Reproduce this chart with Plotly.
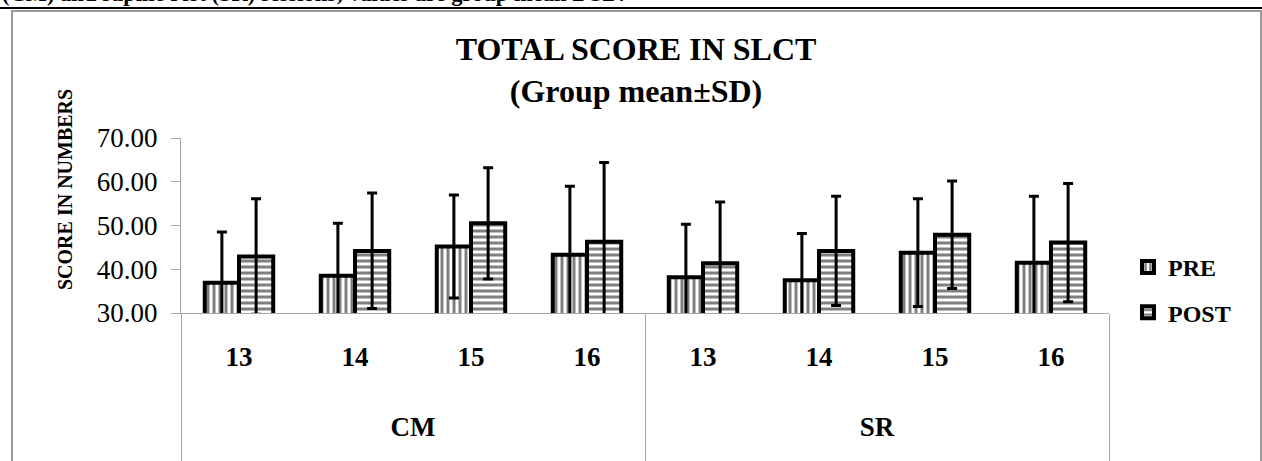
import plotly.graph_objects as go

sessions = ["CM", "CM", "CM", "CM", "SR", "SR", "SR", "SR"]
days = ["13", "14", "15", "16", "13", "14", "15", "16"]
pre_mean = [36.9, 38.5, 45.2, 43.3, 38.2, 37.5, 43.8, 41.5]
pre_sd = [11.6, 12.0, 11.8, 15.7, 12.1, 10.7, 12.3, 15.2]
post_mean = [42.9, 44.2, 50.5, 46.3, 41.4, 44.2, 47.9, 46.1]
post_sd = [13.2, 13.2, 12.7, 18.1, 14.0, 12.5, 12.3, 13.5]

SERIF = "Liberation Serif"
GRAY = "#a6a6a6"

# label text (an invisible spacer line gives Excel-like spacing between the two category levels)
day_labels = [d + "<br><span style='font-size:80px'> </span>" for d in days]
session_labels = [s + "<br> <br> " for s in sessions]

fig = go.Figure()
fig.add_trace(go.Bar(
    name="PRE", x=[session_labels, day_labels], y=pre_mean,
    error_y=dict(type="data", array=pre_sd, symmetric=True, color="black", thickness=3, width=5),
    marker=dict(color="white", line=dict(color="black", width=4),
                pattern=dict(shape="|", fgcolor="black", bgcolor="white", size=6, solidity=0.5)),
    legendgroup="a",
))
fig.add_trace(go.Bar(
    name="POST", x=[session_labels, day_labels], y=post_mean,
    error_y=dict(type="data", array=post_sd, symmetric=True, color="black", thickness=3, width=5),
    marker=dict(color="white", line=dict(color="black", width=4),
                pattern=dict(shape="-", fgcolor="black", bgcolor="white", size=6, solidity=0.5)),
    legendgroup="b",
))

L, R, T, B = 181, 1109, 138, 313
W, H = 1262, 461
pw, ph = R - L, B - T

def px(x):
    return (x - L) / pw

def py(y):
    return (B - y) / ph

fig.update_layout(
    width=W, height=H,
    margin=dict(l=L, r=W - R, t=T, b=H - B, autoexpand=False),
    paper_bgcolor="white", plot_bgcolor="white",
    barmode="group", bargap=0.41, bargroupgap=0,
    font=dict(family=SERIF, color="black"),
    showlegend=True,
    legend=dict(x=px(1128), y=py(245), xanchor="left", yanchor="top",
                font=dict(family=SERIF, size=24, color="black", weight="bold"),
                tracegroupgap=11, itemwidth=30, bgcolor="rgba(0,0,0,0)"),
    title=dict(text="<b>TOTAL SCORE IN SLCT<br>(Group mean±SD)</b>",
               font=dict(family=SERIF, size=32, color="black"),
               x=px(636), xref="paper", xanchor="center",
               y=1 - 60 / H, yref="container", yanchor="middle"),
    xaxis=dict(type="multicategory", showline=True, linecolor=GRAY, linewidth=1,
               ticks="", showgrid=False, showdividers=True, dividercolor=GRAY, dividerwidth=1,
               ticklabelstandoff=20,
               tickfont=dict(family=SERIF, size=27, color="black", weight="bold")),
    yaxis=dict(range=[30, 70], dtick=10, tickformat=".2f", showline=True, linecolor=GRAY,
               linewidth=1, ticks="outside", ticklen=9, tickcolor=GRAY, showgrid=False,
               zeroline=False, ticklabelstandoff=8,
               tickfont=dict(family=SERIF, size=27, color="black")),
)

fig.add_annotation(text="<b>SCORE IN NUMBERS</b>", textangle=-90, xref="paper", yref="paper",
                   x=px(65), y=py(190), xanchor="center", yanchor="middle", showarrow=False,
                   font=dict(family=SERIF, size=20, color="black"))
fig.add_annotation(text="<b>(CM) and supine rest (SR) sessions; values are group mean ± SD.</b>",
                   xref="paper", yref="paper", x=px(0), y=py(8), xanchor="left", yanchor="bottom",
                   showarrow=False, font=dict(family=SERIF, size=22.5, color="black"))
fig.add_shape(type="line", xref="paper", yref="paper", x0=px(0), x1=px(W), y0=py(8), y1=py(8),
              line=dict(color="black", width=2))
fig.add_shape(type="rect", xref="paper", yref="paper", x0=px(12), x1=px(1261), y0=py(480), y1=py(11),
              line=dict(color="#9a9a9a", width=2), layer="below")

fig.write_html("out.html", config={"displayModeBar": False},
               post_script="document.body.style.margin='0px';document.body.style.padding='0px';")
